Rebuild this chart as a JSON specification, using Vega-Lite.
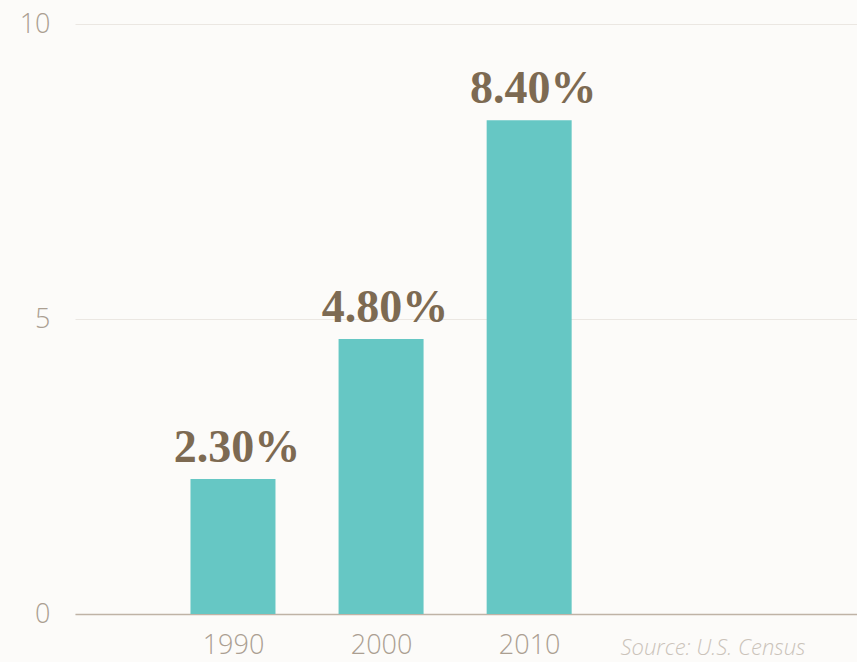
{
  "$schema": "https://vega.github.io/schema/vega-lite/v6.json",
  "autosize": "none",
  "width": 782,
  "height": 590,
  "padding": {"left": 75, "top": 24, "right": 0, "bottom": 48},
  "background": "#fcfbf9",
  "config": {"view": {"stroke": null}},
  "data": {
    "values": [
      {"year": 1990, "value": 2.29, "label": "2.30%"},
      {"year": 2000, "value": 4.66, "label": "4.80%"},
      {"year": 2010, "value": 8.37, "label": "8.40%"}
    ]
  },
  "encoding": {
    "x": {
      "field": "year",
      "type": "quantitative",
      "scale": {"domain": [1979.67, 2031.8], "nice": false, "zero": false},
      "axis": {
        "values": [1990, 2000, 2010],
        "format": "d",
        "grid": false,
        "ticks": false,
        "domainColor": "#bfb3a6",
        "domainWidth": 1.5,
        "labelFont": "Open Sans",
        "labelFontWeight": 300,
        "labelFontSize": 27,
        "labelColor": "#ab9f92",
        "labelPadding": 18,
        "title": "Source: U.S. Census",
        "titleFont": "Open Sans",
        "titleFontStyle": "italic",
        "titleFontWeight": 300,
        "titleFontSize": 22,
        "titleColor": "#cbc3ba",
        "titleAlign": "right",
        "titleAnchor": null,
        "titleBaseline": "alphabetic",
        "titleX": 730,
        "titleY": 40
      }
    },
    "y": {
      "field": "value",
      "type": "quantitative",
      "scale": {"domain": [0, 10], "nice": false},
      "axis": {
        "values": [0, 5, 10],
        "title": null,
        "domain": false,
        "ticks": false,
        "gridColor": "#ebe7e2",
        "gridWidth": 1,
        "labelFont": "Open Sans",
        "labelFontWeight": 300,
        "labelFontSize": 27,
        "labelColor": "#ab9f92",
        "labelPadding": 25
      }
    }
  },
  "layer": [
    {"mark": {"type": "bar", "size": 85, "color": "#66c7c4"}},
    {
      "mark": {
        "type": "text",
        "font": "Liberation Serif",
        "fontWeight": "bold",
        "fontSize": 46,
        "color": "#7d6a52",
        "baseline": "alphabetic",
        "dx": 4,
        "dy": -17
      },
      "encoding": {"text": {"field": "label"}}
    }
  ]
}
